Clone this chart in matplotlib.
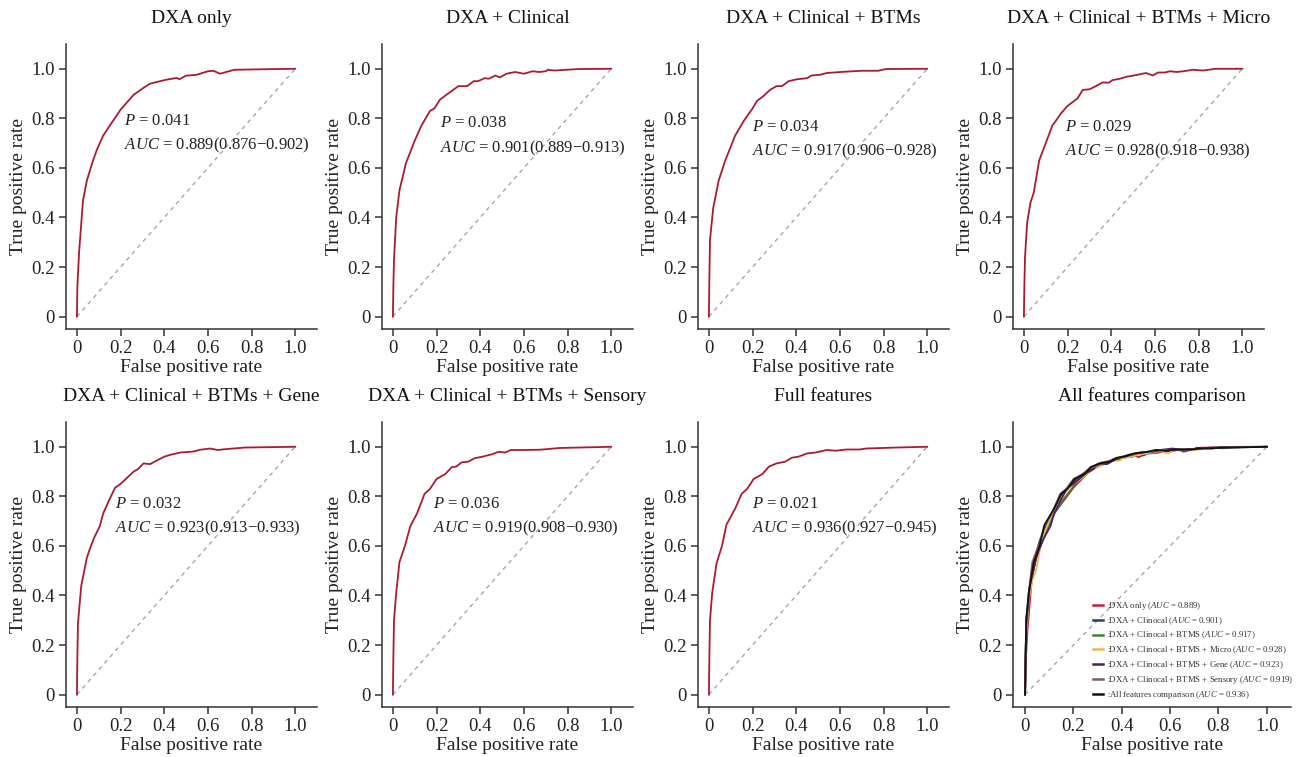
import matplotlib.pyplot as plt

plt.rcParams['font.family'] = ['Liberation Serif', 'DejaVu Serif']
plt.rcParams['mathtext.fontset'] = 'custom'
plt.rcParams['mathtext.rm'] = 'Liberation Serif'
plt.rcParams['mathtext.it'] = 'Liberation Serif:italic'

# --- DATA ---
titles = ["DXA only", "DXA + Clinical", "DXA + Clinical + BTMs",
          "DXA + Clinical + BTMs + Micro", "DXA + Clinical + BTMs + Gene",
          "DXA + Clinical + BTMs + Sensory", "Full features"]
p_values = ["0.041", "0.038", "0.034", "0.029", "0.032", "0.036", "0.021"]
auc_values = ["0.889", "0.901", "0.917", "0.928", "0.923", "0.919", "0.936"]
auc_ci = ["0.876−0.902", "0.889−0.913", "0.906−0.928", "0.918−0.938",
          "0.913−0.933", "0.908−0.930", "0.927−0.945"]

fpr_dxa = [0, 0.002, 0.01, 0.028, 0.046, 0.07, 0.09, 0.105, 0.12, 0.15, 0.2, 0.26,
           0.30, 0.335, 0.41, 0.457, 0.47, 0.5, 0.55, 0.6, 0.625, 0.656, 0.72, 0.85, 1.0]
tpr_dxa = [0, 0.12, 0.26, 0.47, 0.55, 0.62, 0.67, 0.70, 0.73, 0.77, 0.835, 0.895,
           0.92, 0.94, 0.956, 0.963, 0.958, 0.972, 0.976, 0.99, 0.992, 0.98, 0.996, 0.998, 1.0]

fpr_clin = [0, 0.002, 0.005, 0.015, 0.03, 0.06, 0.1, 0.13, 0.17, 0.19, 0.215, 0.245,
            0.3, 0.34, 0.37, 0.39, 0.42, 0.44, 0.47, 0.49, 0.52, 0.56, 0.6, 0.64,
            0.67, 0.70, 0.71, 0.74, 0.85, 1.0]
tpr_clin = [0, 0.12, 0.23, 0.40, 0.51, 0.62, 0.71, 0.77, 0.83, 0.84, 0.875, 0.895,
            0.93, 0.93, 0.95, 0.95, 0.962, 0.96, 0.973, 0.965, 0.98, 0.987, 0.98, 0.99,
            0.987, 0.99, 0.996, 0.993, 0.999, 1.0]

fpr_btm = [0, 0.002, 0.005, 0.02, 0.045, 0.075, 0.12, 0.16, 0.2, 0.22, 0.25, 0.28,
           0.31, 0.335, 0.365, 0.405, 0.45, 0.47, 0.51, 0.54, 0.62, 0.7, 0.775, 0.81, 1.0]
tpr_btm = [0, 0.15, 0.31, 0.44, 0.55, 0.63, 0.73, 0.79, 0.84, 0.87, 0.89, 0.915,
           0.93, 0.93, 0.95, 0.958, 0.962, 0.973, 0.976, 0.983, 0.988, 0.992, 0.992, 0.999, 1.0]

fpr_micro = [0, 0.002, 0.005, 0.015, 0.03, 0.045, 0.07, 0.1, 0.13, 0.17, 0.2, 0.245,
             0.27, 0.3, 0.33, 0.36, 0.39, 0.405, 0.44, 0.47, 0.505, 0.56, 0.59, 0.615,
             0.645, 0.67, 0.70, 0.73, 0.775, 0.82, 0.88, 1.0]
tpr_micro = [0, 0.12, 0.24, 0.38, 0.46, 0.50, 0.63, 0.70, 0.77, 0.82, 0.85, 0.88,
             0.915, 0.917, 0.93, 0.945, 0.944, 0.954, 0.96, 0.968, 0.973, 0.983, 0.973, 0.985,
             0.985, 0.99, 0.987, 0.99, 0.996, 0.993, 1.0, 1.0]

fpr_gene = [0, 0.002, 0.005, 0.02, 0.045, 0.06, 0.08, 0.105, 0.12, 0.145, 0.175, 0.2,
            0.23, 0.26, 0.28, 0.305, 0.335, 0.365, 0.4, 0.43, 0.475, 0.535, 0.565, 0.61,
            0.645, 0.675, 0.77, 1.0]
tpr_gene = [0, 0.15, 0.29, 0.44, 0.55, 0.59, 0.635, 0.68, 0.73, 0.78, 0.835, 0.85,
            0.875, 0.90, 0.91, 0.933, 0.93, 0.944, 0.96, 0.968, 0.977, 0.981, 0.988, 0.993,
            0.987, 0.99, 0.997, 1.0]

fpr_sens = [0, 0.002, 0.005, 0.015, 0.03, 0.055, 0.08, 0.11, 0.145, 0.17, 0.2, 0.24,
            0.27, 0.29, 0.315, 0.345, 0.375, 0.41, 0.455, 0.485, 0.515, 0.54, 0.59, 0.67,
            0.70, 0.76, 1.0]
tpr_sens = [0, 0.15, 0.30, 0.41, 0.535, 0.60, 0.68, 0.73, 0.81, 0.83, 0.87, 0.89,
            0.918, 0.92, 0.937, 0.94, 0.954, 0.96, 0.97, 0.98, 0.977, 0.987, 0.987, 0.988,
            0.99, 0.995, 1.0]

fpr_full = [0, 0.002, 0.005, 0.015, 0.035, 0.06, 0.08, 0.12, 0.15, 0.175, 0.205, 0.245,
            0.275, 0.31, 0.35, 0.38, 0.41, 0.45, 0.49, 0.54, 0.58, 0.63, 0.69, 0.72, 0.86, 1.0]
tpr_full = [0, 0.15, 0.30, 0.41, 0.53, 0.60, 0.685, 0.75, 0.81, 0.83, 0.87, 0.89,
            0.92, 0.933, 0.94, 0.956, 0.96, 0.973, 0.977, 0.987, 0.984, 0.989, 0.989, 0.993, 0.997, 1.0]

fprs = [fpr_dxa, fpr_clin, fpr_btm, fpr_micro, fpr_gene, fpr_sens, fpr_full]
tprs = [tpr_dxa, tpr_clin, tpr_btm, tpr_micro, tpr_gene, tpr_sens, tpr_full]

legend_names = ["DXA only", "DXA + Clinocal", "DXA + Clinocal + BTMS",
                "DXA + Clinocal + BTMS + Micro", "DXA + Clinocal + BTMS + Gene",
                "DXA + Clinocal + BTMS + Sensory", "All features comparison"]
legend_colors = ['#C0203A', '#2B3A80', '#3F7F2F', '#E8B85A', '#4A2060', '#7A5A6A', '#111111']

# --- LAYOUT ---
W, H = 1303, 757
fig = plt.figure(figsize=(W / 100, H / 100), dpi=100)

col_left = [66, 382, 698, 1013]
row_top = [44, 422]
ax_h = 285
ax_w = 251
text_x = [0.215, 0.215, 0.197, 0.188, 0.175, 0.183, 0.197]
text_y = [0.79, 0.78, 0.766, 0.766, 0.77, 0.77, 0.77]

def style_axis(ax):
    ax.set_xlim(-0.05, 1.1)
    ax.set_ylim(-0.05, 1.1)
    for s in ['top', 'right']:
        ax.spines[s].set_visible(False)
    for s in ['left', 'bottom']:
        ax.spines[s].set_color('#333333')
        ax.spines[s].set_linewidth(1.1)
    ticks = [0, 0.2, 0.4, 0.6, 0.8, 1.0]
    labels = ["0", "0.2", "0.4", "0.6", "0.8", "1.0"]
    ax.set_xticks(ticks)
    ax.set_xticklabels(labels)
    ax.set_yticks(ticks)
    ax.set_yticklabels(labels)
    ax.tick_params(direction='out', length=5, width=1.1, color='#333333',
                   labelsize=13.5, labelcolor='#222222', pad=3)
    ax.set_xlabel("False positive rate", fontsize=14, color='#222222', labelpad=1)
    ax.set_ylabel("True positive rate", fontsize=14, color='#222222', labelpad=3)
    ax.plot([0, 1], [0, 1], linestyle=(0, (3, 3)), color='#A8A8A8', lw=1.0, zorder=1)

for i in range(8):
    r, c = divmod(i, 4)
    w = ax_w if i < 7 else 278
    ax = fig.add_axes([col_left[c] / W, 1 - (row_top[r] + ax_h) / H, w / W, ax_h / H])
    style_axis(ax)
    if i < 7:
        ax.plot(fprs[i], tprs[i], color='#A81C31', lw=1.3, zorder=3)
        ax.set_title(titles[i], fontsize=14, pad=15, color='#111111')
        ax.text(text_x[i], text_y[i], f"$P$ = {p_values[i]}", fontsize=12,
                color='#222222', va='center', ha='left')
        ax.text(text_x[i], text_y[i] - 0.1, f"$AUC$ = {auc_values[i]}({auc_ci[i]})",
                fontsize=12, color='#222222', va='center', ha='left')
    else:
        ax.set_title("All features comparison", fontsize=14, pad=15, color='#111111')
        for j in range(7):
            ax.plot(fprs[j], tprs[j], color=legend_colors[j], lw=1.3, zorder=3 + j,
                    label=f":{legend_names[j]} ($AUC$ = {auc_values[j]})")
        leg = ax.legend(loc='lower right', bbox_to_anchor=(1.03, 0.0), fontsize=6.3,
                        frameon=False, handlelength=1.2, handletextpad=0.4,
                        labelspacing=0.35, borderaxespad=0.3)
        for line in leg.get_lines():
            line.set_linewidth(1.8)
        for t in leg.get_texts():
            t.set_color('#333333')

fig.savefig("out.png", dpi=100)
